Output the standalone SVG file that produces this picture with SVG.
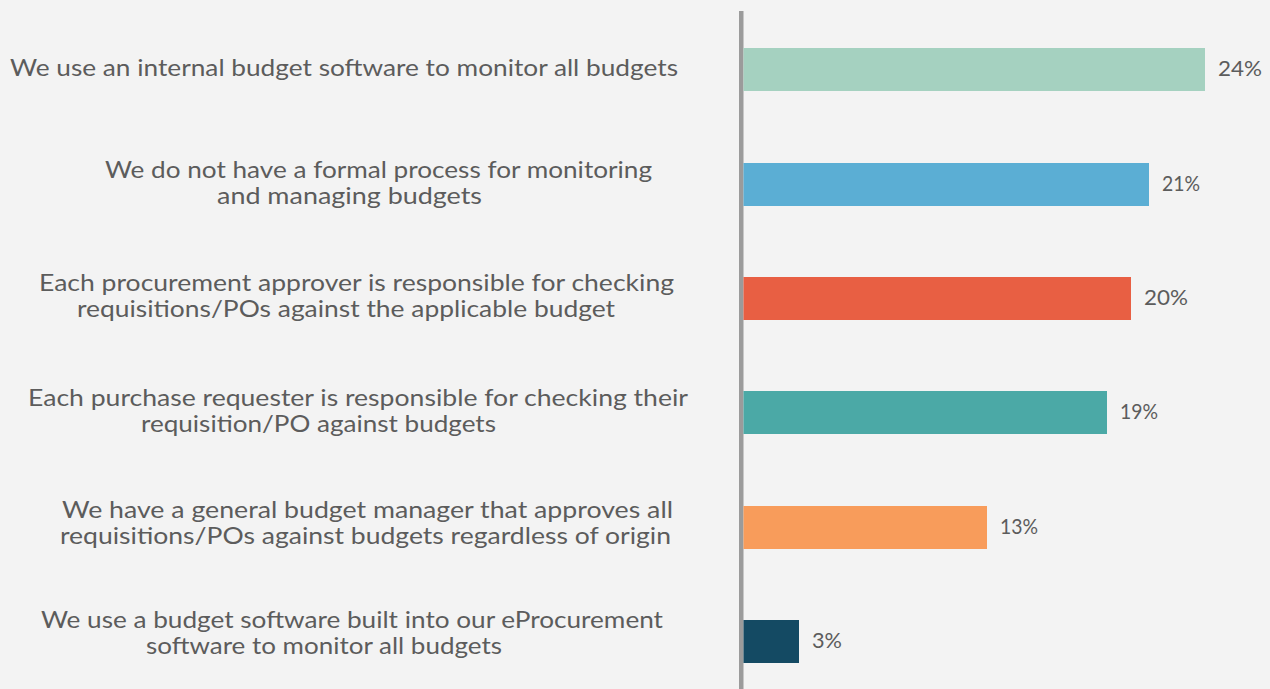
<svg xmlns="http://www.w3.org/2000/svg" width="1270" height="689" viewBox="0 0 1270 689">
<style>
.lbl{font-family:Lato,"Liberation Sans",sans-serif;font-size:23px;fill:#5c5c5c}
.val{font-family:Lato,"Liberation Sans",sans-serif;font-size:20.5px;fill:#5c5c5c}
</style>
<rect width="1270" height="689" fill="#f3f3f3"/>
<g id="connectors">
<rect x="739" y="11" width="4.5" height="678" fill="#9b9b9b"/>
</g>
<g id="row1">
<text class="lbl" x="10" y="76" textLength="668" lengthAdjust="spacingAndGlyphs">We use an internal budget software to monitor all budgets</text>
<rect x="743.5" y="48" width="461.5" height="43" fill="#a5d1c0"/>
<text class="val" x="1218" y="76" textLength="44" lengthAdjust="spacingAndGlyphs">24%</text>
</g>
<g id="row2">
<text class="lbl" x="105" y="178" textLength="547" lengthAdjust="spacingAndGlyphs">We do not have a formal process for monitoring</text>
<text class="lbl" x="217" y="204" textLength="265" lengthAdjust="spacingAndGlyphs">and managing budgets</text>
<rect x="743.5" y="163" width="405.5" height="43" fill="#5baed4"/>
<text class="val" x="1162" y="191" textLength="38" lengthAdjust="spacingAndGlyphs">21%</text>
</g>
<g id="row3">
<text class="lbl" x="39" y="291" textLength="635" lengthAdjust="spacingAndGlyphs">Each procurement approver is responsible for checking</text>
<text class="lbl" x="77" y="317" textLength="538" lengthAdjust="spacingAndGlyphs">requisitions/POs against the applicable budget</text>
<rect x="743.5" y="277" width="387.5" height="43" fill="#e85f43"/>
<text class="val" x="1144" y="305" textLength="44" lengthAdjust="spacingAndGlyphs">20%</text>
</g>
<g id="row4">
<text class="lbl" x="28" y="406" textLength="660" lengthAdjust="spacingAndGlyphs">Each purchase requester is responsible for checking their</text>
<text class="lbl" x="141" y="432" textLength="355" lengthAdjust="spacingAndGlyphs">requisition/PO against budgets</text>
<rect x="743.5" y="391" width="363.5" height="43" fill="#4ba9a6"/>
<text class="val" x="1120" y="419" textLength="38" lengthAdjust="spacingAndGlyphs">19%</text>
</g>
<g id="row5">
<text class="lbl" x="62" y="518" textLength="611" lengthAdjust="spacingAndGlyphs">We have a general budget manager that approves all</text>
<text class="lbl" x="60" y="544" textLength="611" lengthAdjust="spacingAndGlyphs">requisitions/POs against budgets regardless of origin</text>
<rect x="743.5" y="506" width="243.5" height="43" fill="#f89c5b"/>
<text class="val" x="1000" y="534" textLength="38" lengthAdjust="spacingAndGlyphs">13%</text>
</g>
<g id="row6">
<text class="lbl" x="41" y="628" textLength="622" lengthAdjust="spacingAndGlyphs">We use a budget software built into our eProcurement</text>
<text class="lbl" x="146" y="654" textLength="356" lengthAdjust="spacingAndGlyphs">software to monitor all budgets</text>
<rect x="743.5" y="620" width="55.5" height="43" fill="#144a63"/>
<text class="val" x="812" y="648" textLength="30" lengthAdjust="spacingAndGlyphs">3%</text>
</g>
</svg>
